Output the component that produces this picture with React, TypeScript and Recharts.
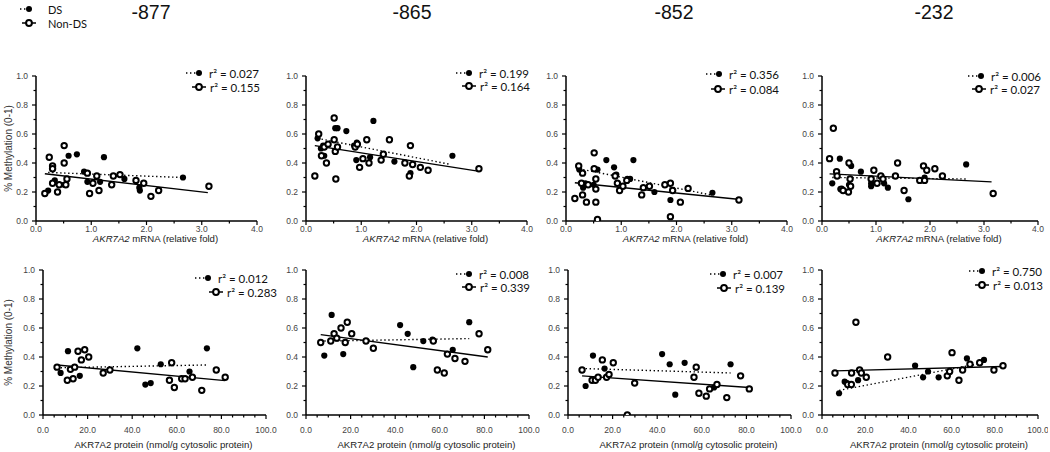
import React from "react";
import { ScatterChart, Scatter, XAxis, YAxis } from "recharts";

type Pair = [number, number];

// ---- top row: % methylation vs AKR7A2 mRNA (relative fold) ----
const mrnaDs877: Pair[] = [[0.22, 0.21], [0.34, 0.28], [0.51, 0.25], [0.59, 0.45], [0.74, 0.46], [0.87, 0.34], [0.93, 0.27], [1.16, 0.27], [1.23, 0.44], [1.6, 0.29], [1.87, 0.23], [1.88, 0.21], [2.66, 0.3]];
const mrnaNon877: Pair[] = [[0.16, 0.19], [0.24, 0.44], [0.3, 0.38], [0.3, 0.36], [0.3, 0.26], [0.39, 0.2], [0.42, 0.25], [0.51, 0.52], [0.51, 0.4], [0.56, 0.29], [0.54, 0.25], [0.93, 0.33], [0.97, 0.19], [1.03, 0.26], [1.1, 0.31], [1.14, 0.21], [1.37, 0.25], [1.4, 0.31], [1.52, 0.32], [1.81, 0.28], [1.95, 0.26], [2.08, 0.17], [2.22, 0.21], [3.13, 0.24]];
const mrnaFitDs877: Pair[] = [[0.22, 0.335], [2.66, 0.3]];
const mrnaFitNon877: Pair[] = [[0.16, 0.326], [3.11, 0.196]];

const mrnaDs865: Pair[] = [[0.21, 0.57], [0.27, 0.5], [0.31, 0.52], [0.33, 0.45], [0.53, 0.64], [0.57, 0.64], [0.73, 0.62], [0.87, 0.52], [0.91, 0.42], [0.92, 0.54], [1.16, 0.44], [1.22, 0.69], [1.6, 0.41], [1.89, 0.33], [2.65, 0.45]];
const mrnaNon865: Pair[] = [[0.16, 0.31], [0.23, 0.6], [0.28, 0.45], [0.33, 0.51], [0.37, 0.4], [0.4, 0.53], [0.51, 0.71], [0.51, 0.56], [0.53, 0.48], [0.54, 0.29], [0.57, 0.51], [0.89, 0.51], [0.93, 0.53], [0.97, 0.37], [1.03, 0.43], [1.1, 0.56], [1.14, 0.4], [1.36, 0.42], [1.4, 0.46], [1.51, 0.56], [1.79, 0.4], [1.89, 0.52], [1.87, 0.31], [1.93, 0.39], [2.07, 0.37], [2.21, 0.35], [3.13, 0.36]];
const mrnaFitDs865: Pair[] = [[0.21, 0.57], [2.62, 0.39]];
const mrnaFitNon865: Pair[] = [[0.16, 0.52], [3.11, 0.344]];

const mrnaDs852: Pair[] = [[0.24, 0.355], [0.31, 0.23], [0.35, 0.26], [0.5, 0.25], [0.57, 0.355], [0.73, 0.42], [0.87, 0.37], [0.91, 0.32], [1.11, 0.29], [1.16, 0.29], [1.22, 0.42], [1.6, 0.2], [1.89, 0.145], [2.65, 0.195]];
const mrnaNon852: Pair[] = [[0.16, 0.155], [0.23, 0.38], [0.3, 0.33], [0.28, 0.26], [0.3, 0.18], [0.37, 0.13], [0.4, 0.25], [0.51, 0.47], [0.51, 0.36], [0.54, 0.29], [0.54, 0.22], [0.54, 0.13], [0.57, 0.01], [0.89, 0.31], [0.93, 0.26], [0.97, 0.21], [1.03, 0.24], [1.1, 0.28], [1.37, 0.18], [1.4, 0.23], [1.51, 0.24], [1.79, 0.25], [1.89, 0.26], [1.93, 0.21], [1.89, 0.03], [2.07, 0.13], [2.21, 0.225], [3.13, 0.145]];
const mrnaFitDs852: Pair[] = [[0.24, 0.36], [2.62, 0.18]];
const mrnaFitNon852: Pair[] = [[0.16, 0.264], [3.11, 0.15]];

const mrnaDs232: Pair[] = [[0.19, 0.26], [0.33, 0.43], [0.34, 0.22], [0.5, 0.25], [0.54, 0.38], [0.72, 0.34], [0.91, 0.26], [0.91, 0.24], [1.15, 0.26], [1.22, 0.23], [1.6, 0.15], [1.9, 0.3], [2.67, 0.39]];
const mrnaNon232: Pair[] = [[0.14, 0.43], [0.21, 0.64], [0.27, 0.34], [0.28, 0.31], [0.36, 0.22], [0.39, 0.21], [0.5, 0.4], [0.52, 0.29], [0.53, 0.24], [0.49, 0.2], [0.91, 0.29], [0.96, 0.35], [1.02, 0.26], [1.09, 0.31], [1.13, 0.29], [1.36, 0.31], [1.4, 0.4], [1.52, 0.21], [1.81, 0.28], [1.88, 0.38], [1.94, 0.35], [1.9, 0.28], [2.09, 0.36], [2.23, 0.31], [3.17, 0.19]];
const mrnaFitDs232: Pair[] = [[0.19, 0.3], [2.67, 0.29]];
const mrnaFitNon232: Pair[] = [[0.14, 0.325], [3.14, 0.27]];

// ---- bottom row: % methylation vs AKR7A2 protein ----
const protDs877: Pair[] = [[7.9, 0.29], [11.2, 0.44], [16.5, 0.27], [42.3, 0.46], [45.9, 0.21], [48.3, 0.22], [52.8, 0.35], [65.7, 0.3], [73.5, 0.46]];
const protNon877: Pair[] = [[6.3, 0.33], [10.9, 0.24], [12.3, 0.315], [13.5, 0.25], [14.2, 0.33], [15.7, 0.44], [17.2, 0.38], [18.7, 0.45], [20.5, 0.4], [27.0, 0.29], [30.0, 0.31], [56.7, 0.24], [57.7, 0.36], [58.9, 0.19], [62.2, 0.25], [63.7, 0.25], [67.0, 0.26], [71.2, 0.17], [77.7, 0.31], [81.7, 0.26]];
const protFitDs877: Pair[] = [[7.9, 0.326], [73.5, 0.345]];
const protFitNon877: Pair[] = [[6.3, 0.345], [81.7, 0.237]];

const protDs865: Pair[] = [[8.2, 0.41], [11.5, 0.69], [16.7, 0.42], [42.2, 0.62], [45.6, 0.56], [48.1, 0.33], [52.6, 0.51], [56.7, 0.52], [65.8, 0.45], [73.2, 0.64]];
const protNon865: Pair[] = [[6.6, 0.5], [11.1, 0.51], [12.6, 0.56], [13.8, 0.53], [15.7, 0.6], [17.6, 0.5], [18.5, 0.64], [20.5, 0.56], [26.9, 0.51], [30.2, 0.46], [57.1, 0.51], [58.9, 0.31], [62.0, 0.29], [63.4, 0.42], [66.8, 0.39], [71.3, 0.37], [77.6, 0.56], [81.5, 0.45]];
const protFitDs865: Pair[] = [[8.2, 0.51], [73.2, 0.527]];
const protFitNon865: Pair[] = [[6.6, 0.554], [81.5, 0.4]];

const protDs852: Pair[] = [[7.9, 0.2], [11.2, 0.41], [16.4, 0.32], [42.2, 0.42], [45.6, 0.35], [48.1, 0.14], [52.3, 0.36], [65.5, 0.19], [72.9, 0.35]];
const protNon852: Pair[] = [[6.3, 0.31], [10.8, 0.24], [12.3, 0.24], [13.5, 0.26], [15.4, 0.38], [17.3, 0.26], [18.4, 0.28], [20.3, 0.36], [26.6, 0.0], [29.9, 0.22], [56.5, 0.26], [57.5, 0.33], [58.7, 0.15], [62.0, 0.13], [63.5, 0.18], [66.8, 0.21], [71.2, 0.12], [77.4, 0.27], [81.3, 0.18]];
const protFitDs852: Pair[] = [[7.9, 0.32], [72.9, 0.29]];
const protFitNon852: Pair[] = [[6.3, 0.27], [81.3, 0.19]];

const protDs232: Pair[] = [[7.9, 0.15], [10.5, 0.23], [11.6, 0.22], [16.7, 0.24], [43.1, 0.34], [46.8, 0.26], [49.1, 0.3], [54.0, 0.26], [67.1, 0.39], [75.0, 0.38]];
const protNon232: Pair[] = [[6.0, 0.29], [11.9, 0.21], [13.6, 0.21], [13.7, 0.29], [15.7, 0.64], [17.4, 0.31], [18.2, 0.29], [20.5, 0.26], [30.4, 0.4], [58.0, 0.27], [59.1, 0.3], [60.2, 0.43], [63.4, 0.24], [65.1, 0.31], [68.5, 0.35], [73.0, 0.36], [79.6, 0.31], [83.8, 0.34]];
const protFitDs232: Pair[] = [[7.9, 0.17], [75.0, 0.36]];
const protFitNon232: Pair[] = [[6.0, 0.304], [83.8, 0.334]];

const titles = ["-877", "-865", "-852", "-232"];
const r2Mrna = [["0.027", "0.155"], ["0.199", "0.164"], ["0.356", "0.084"], ["0.006", "0.027"]];
const r2Protein = [["0.012", "0.283"], ["0.008", "0.339"], ["0.007", "0.139"], ["0.750", "0.013"]];

const mrnaTicks = [0, 0.5, 1, 1.5, 2, 2.5, 3, 3.5, 4];
const proteinTicks = [0, 5, 10, 15, 20, 25, 30, 35, 40, 45, 50, 55, 60, 65, 70, 75, 80, 85, 90, 95, 100];
const yTicks = [0, 0.1, 0.2, 0.3, 0.4, 0.5, 0.6, 0.7, 0.8, 0.9, 1];

const TICK_FONT = "'Liberation Sans', Arial, sans-serif";
const LEGEND_FONT = "Lato, 'Open Sans', sans-serif";

const toPts = (a: Pair[]) => a.map(([x, y]) => ({ x, y }));

interface PanelCfg {
  axisX: number;
  plotTop: number;
  plotW: number;
  plotH: number;
  leftPad: number;
  rightPad: number;
  xMax: number;
  xMajor: number;
  xTicks: number[];
  tickDy: number;
  ds: Pair[];
  non: Pair[];
  fitDs: Pair[];
  fitNon: Pair[];
}

const FilledDot = (p: any) => <circle cx={p.cx} cy={p.cy} r={3.1} fill="#000" />;
const OpenDot = (p: any) => (
  <circle cx={p.cx} cy={p.cy} r={2.7} fill="#fff" stroke="#000" strokeWidth={2} />
);
const NoDot = () => <g />;

const xTick = (cfg: PanelCfg) => (props: any) => {
  const { x, y, payload } = props;
  const v = payload.value;
  const major = Math.abs(v / cfg.xMajor - Math.round(v / cfg.xMajor)) < 1e-6;
  return (
    <g>
      <line x1={x} x2={x} y1={y} y2={y + (major ? 4 : 2.5)} stroke="#000" strokeWidth={1.2} />
      {major && (
        <text x={x} y={y + cfg.tickDy} textAnchor="middle" dominantBaseline="central"
          fontSize={8.5} fill="#444" fontFamily={TICK_FONT}>
          {v.toFixed(1)}
        </text>
      )}
    </g>
  );
};

const yTick = (props: any) => {
  const { x, y, payload } = props;
  const v = payload.value;
  const major = Math.round(v * 10) % 2 === 0;
  return (
    <g>
      <line x1={x} x2={x - (major ? 4 : 2.5)} y1={y} y2={y} stroke="#000" strokeWidth={1.2} />
      {major && (
        <text x={x - 8} y={y} textAnchor="end" dominantBaseline="central"
          fontSize={8.5} fill="#444" fontFamily={TICK_FONT}>
          {v.toFixed(1)}
        </text>
      )}
    </g>
  );
};

function Panel({ cfg }: { cfg: PanelCfg }) {
  const topPad = 8;
  const xAxisH = 40;
  const width = cfg.leftPad + cfg.plotW + cfg.rightPad;
  const height = topPad + cfg.plotH + xAxisH;
  return (
    <div style={{ position: "absolute", left: cfg.axisX - cfg.leftPad, top: cfg.plotTop - topPad }}>
      <ScatterChart width={width} height={height}
        margin={{ top: topPad, right: cfg.rightPad, bottom: 0, left: 0 }}>
        <XAxis type="number" dataKey="x" domain={[0, cfg.xMax]} ticks={cfg.xTicks} interval={0}
          height={xAxisH} allowDataOverflow tickLine={false} tickSize={0} tickMargin={0}
          axisLine={{ stroke: "#000", strokeWidth: 1.5 }} tick={xTick(cfg)} />
        <YAxis type="number" dataKey="y" domain={[0, 1]} ticks={yTicks} interval={0}
          width={cfg.leftPad} allowDataOverflow tickLine={false} tickSize={0} tickMargin={0}
          axisLine={{ stroke: "#000", strokeWidth: 1.5 }} tick={yTick} />
        <Scatter data={toPts(cfg.fitDs)} shape={NoDot} isAnimationActive={false}
          line={{ stroke: "#000", strokeWidth: 1.4, strokeDasharray: "1.4 2.6" }} />
        <Scatter data={toPts(cfg.fitNon)} shape={NoDot} isAnimationActive={false}
          line={{ stroke: "#000", strokeWidth: 1.4 }} />
        <Scatter data={toPts(cfg.ds)} shape={FilledDot} isAnimationActive={false} />
        <Scatter data={toPts(cfg.non)} shape={OpenDot} isAnimationActive={false} />
      </ScatterChart>
    </div>
  );
}

const topAxisX = [36, 306, 566, 822];
const topPlotW = [221, 221, 221, 216];
const botAxisX = [43, 306, 568, 822];
const botPlotW = [223, 223, 223, 216];

const mrnaSets = [
  [mrnaDs877, mrnaNon877, mrnaFitDs877, mrnaFitNon877],
  [mrnaDs865, mrnaNon865, mrnaFitDs865, mrnaFitNon865],
  [mrnaDs852, mrnaNon852, mrnaFitDs852, mrnaFitNon852],
  [mrnaDs232, mrnaNon232, mrnaFitDs232, mrnaFitNon232],
];
const protSets = [
  [protDs877, protNon877, protFitDs877, protFitNon877],
  [protDs865, protNon865, protFitDs865, protFitNon865],
  [protDs852, protNon852, protFitDs852, protFitNon852],
  [protDs232, protNon232, protFitDs232, protFitNon232],
];

const topPanels: PanelCfg[] = mrnaSets.map((s, i) => ({
  axisX: topAxisX[i], plotTop: 76, plotW: topPlotW[i], plotH: 145,
  leftPad: i === 0 ? topAxisX[i] : 36, rightPad: i === 3 ? 10 : 18,
  xMax: 4, xMajor: 1, xTicks: mrnaTicks, tickDy: 8,
  ds: s[0], non: s[1], fitDs: s[2], fitNon: s[3],
}));
const botPanels: PanelCfg[] = protSets.map((s, i) => ({
  axisX: botAxisX[i], plotTop: 270, plotW: botPlotW[i], plotH: 145,
  leftPad: i === 0 ? botAxisX[i] : 36, rightPad: i === 3 ? 10 : 18,
  xMax: 100, xMajor: 20, xTicks: proteinTicks, tickDy: 15,
  ds: s[0], non: s[1], fitDs: s[2], fitNon: s[3],
}));

// legend symbol centres: [filled x, filled y, open x, open y]
const topLegendPos = [[199, 73, 199, 87], [469, 73, 469, 86], [719, 74, 718, 89], [981, 76, 979, 89]];
const botLegendPos = [[208, 278, 216, 292], [469, 274, 469, 287], [723, 274, 724, 288], [982, 271, 982, 285]];
const titleX = [151, 412, 674, 934];

function PanelLegend({ pos, r2 }: { pos: number[]; r2: string[] }) {
  const [x1, y1, x2, y2] = pos;
  const txt = { fontSize: 11.5, fill: "#111", fontFamily: LEGEND_FONT, dominantBaseline: "central" as const };
  return (
    <g>
      <line x1={x1 - 13} x2={x1 - 3} y1={y1} y2={y1} stroke="#000" strokeWidth={1.4} strokeDasharray="1.4 2.6" />
      <circle cx={x1} cy={y1} r={3} fill="#000" />
      <text x={x1 + 10} y={y1} {...txt}>r² = {r2[0]}</text>
      <line x1={x2 - 7} x2={x2 + 7} y1={y2} y2={y2} stroke="#000" strokeWidth={1.5} />
      <circle cx={x2} cy={y2} r={2.9} fill="#fff" stroke="#000" strokeWidth={2} />
      <text x={x2 + 11} y={y2} {...txt}>r² = {r2[1]}</text>
    </g>
  );
}

function Overlay() {
  const axTitle = { fontSize: 9.6, fill: "#222", fontFamily: TICK_FONT, textAnchor: "middle" as const, dominantBaseline: "central" as const };
  return (
    <svg width={1050} height={452} style={{ position: "absolute", left: 0, top: 0, pointerEvents: "none" }}>
      {/* series legend */}
      <line x1={20} x2={26} y1={9} y2={9} stroke="#000" strokeWidth={1.4} strokeDasharray="1.4 2.6" />
      <circle cx={29} cy={9} r={3} fill="#000" />
      <text x={48} y={9} fontSize={11} fontFamily={LEGEND_FONT} dominantBaseline="central" fill="#111">DS</text>
      <line x1={22} x2={36} y1={23} y2={23} stroke="#000" strokeWidth={1.5} />
      <circle cx={29} cy={23} r={2.9} fill="#fff" stroke="#000" strokeWidth={2} />
      <text x={48} y={23} fontSize={11} fontFamily={LEGEND_FONT} dominantBaseline="central" fill="#111">Non-DS</text>

      {titles.map((t, i) => (
        <text key={t} x={titleX[i]} y={19} textAnchor="middle" fontSize={19.5}
          fontFamily="'Liberation Sans Narrow', 'Arial Narrow', 'Liberation Sans', sans-serif" fill="#111">
          {t}
        </text>
      ))}

      {topPanels.map((p, i) => (
        <text key={"tx" + i} x={p.axisX + p.plotW / 2 + 9} y={p.plotTop + p.plotH + 17} {...axTitle}>
          <tspan fontStyle="italic">AKR7A2</tspan> mRNA (relative fold)
        </text>
      ))}
      {botPanels.map((p, i) => (
        <text key={"bx" + i} x={p.axisX + p.plotW / 2 + 9} y={p.plotTop + p.plotH + 29} {...axTitle}>
          AKR7A2 protein (nmol/g cytosolic protein)
        </text>
      ))}

      {[topPanels[0], botPanels[0]].map((p, i) => (
        <text key={"yl" + i} x={8} y={p.plotTop + p.plotH / 2} fontSize={10} fill="#333" fontFamily={TICK_FONT}
          textAnchor="middle" dominantBaseline="central"
          transform={`rotate(-90 8 ${p.plotTop + p.plotH / 2})`}>
          % Methylation (0-1)
        </text>
      ))}

      {topLegendPos.map((pos, i) => <PanelLegend key={"tl" + i} pos={pos} r2={r2Mrna[i]} />)}
      {botLegendPos.map((pos, i) => <PanelLegend key={"bl" + i} pos={pos} r2={r2Protein[i]} />)}
    </svg>
  );
}

export default function App() {
  return (
    <div style={{ position: "absolute", left: 0, top: 0, width: 1050, height: 452, overflow: "hidden", background: "#fff" }}>
      {topPanels.map((p, i) => <Panel key={"t" + i} cfg={p} />)}
      {botPanels.map((p, i) => <Panel key={"b" + i} cfg={p} />)}
      <Overlay />
    </div>
  );
}
